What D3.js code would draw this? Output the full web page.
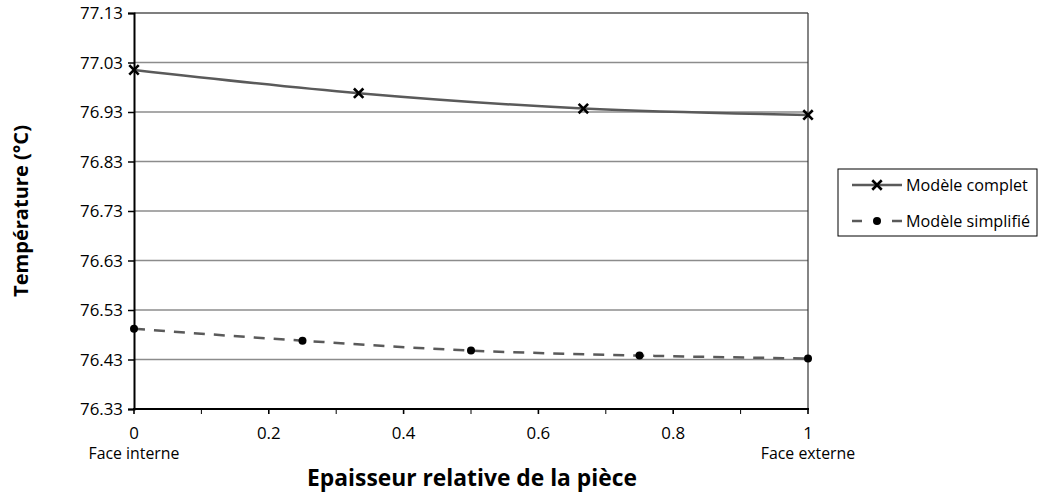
<!DOCTYPE html>
<html><head><meta charset="utf-8">
<script src="https://cdn.jsdelivr.net/npm/d3@7"></script>
<style>
body{margin:0;background:#fff;}
svg{font-family:"Open Sans", "Noto Sans", sans-serif;}
</style></head>
<body><svg id="chart" width="1038" height="493"></svg>
<script>
const seriesNames = ["Modèle complet", "Modèle simplifié"];
const completX = [0, 0.3333, 0.6667, 1];
const completY = [77.015, 76.968, 76.937, 76.924];
const simplX = [0, 0.25, 0.5, 0.75, 1];
const simplY = [76.492, 76.468, 76.448, 76.438, 76.432];
const yTicks = [76.33, 76.43, 76.53, 76.63, 76.73, 76.83, 76.93, 77.03, 77.13];
const xTicks = [0, 0.2, 0.4, 0.6, 0.8, 1];
const xMinor = [0, 0.1, 0.2, 0.3, 0.4, 0.5, 0.6, 0.7, 0.8, 0.9, 1];
const xEndLabels = ["Face interne", "Face externe"];
const yTitle = "Température (°C)";
const xTitle = "Epaisseur relative de la pièce";

const svg = d3.select("#chart");
const L = 134, R = 808, T = 13, B = 409;
const x = d3.scaleLinear().domain([0, 1]).range([L, R]);
const y = d3.scaleLinear().domain([76.33, 77.13]).range([B, T]);

// scale a font size so a sample text reaches a target width
function fitSize(sample, width, weight) {
  const t = svg.append("text").attr("font-size", 100).attr("font-weight", weight || "normal").text(sample);
  const w = t.node().getComputedTextLength();
  t.remove();
  return 100 * width / w;
}
const tickFs = fitSize("77.13", 43);
const endFs = fitSize("Face interne", 91);
const yTitleFs = fitSize(yTitle, 172, "bold");
const xTitleFs = fitSize(xTitle, 330, "bold");
const legFs = fitSize("Modèle complet", 122);

// gridlines
svg.append("g").selectAll("line").data(yTicks.slice(1, -1)).join("line")
  .attr("x1", L).attr("x2", R).attr("y1", d => y(d)).attr("y2", d => y(d))
  .attr("stroke", "#8c8c8c").attr("stroke-width", 1.3);
// top & right border
svg.append("line").attr("x1", L).attr("x2", R).attr("y1", y(77.13)).attr("y2", y(77.13)).attr("stroke", "#000").attr("stroke-width", 1.2);
svg.append("line").attr("x1", R).attr("x2", R).attr("y1", T).attr("y2", B).attr("stroke", "#333").attr("stroke-width", 1.2);

// y axis
const yAxis = d3.axisLeft(y).tickValues(yTicks).tickFormat(d3.format(".2f")).tickSize(6).tickPadding(5);
const gy = svg.append("g").attr("transform", `translate(${L},0)`).call(yAxis);
gy.select(".domain").attr("stroke-width", 2).attr("stroke", "#000");
gy.selectAll(".tick line").attr("stroke-width", 1.5);
gy.selectAll("text").attr("font-size", tickFs).attr("fill", "#000").attr("font-family", "Open Sans").attr("dy", "0.34em");

// x axis
const gx = svg.append("g").attr("transform", `translate(0,${B})`);
gx.append("line").attr("x1", L - 1).attr("x2", R + 1).attr("y1", 0).attr("y2", 0).attr("stroke", "#000").attr("stroke-width", 2.2);
gx.selectAll(".minor").data(xMinor).join("line").attr("class", "minor")
  .attr("x1", d => x(d)).attr("x2", d => x(d)).attr("y1", 0).attr("y2", 5)
  .attr("stroke", "#000").attr("stroke-width", d => (Math.round(d * 10) % 2 === 0 ? 1.6 : 1));
gx.selectAll(".lbl").data(xTicks).join("text").attr("class", "lbl")
  .attr("x", d => x(d)).attr("y", 30).attr("text-anchor", "middle")
  .attr("font-size", tickFs).text(d => d3.format("~g")(d));
gx.selectAll(".end").data(xEndLabels).join("text").attr("class", "end")
  .attr("x", (d, i) => x(i)).attr("y", 50).attr("text-anchor", "middle")
  .attr("font-size", endFs).text(d => d);

// titles
svg.append("text").attr("transform", `translate(28,211) rotate(-90)`).attr("text-anchor", "middle")
  .attr("font-weight", "bold").attr("font-size", yTitleFs).text(yTitle);
svg.append("text").attr("x", 472).attr("y", 486).attr("text-anchor", "middle")
  .attr("font-weight", "bold").attr("font-size", xTitleFs).text(xTitle);

// lines
const line = d3.line().x(d => x(d[0])).y(d => y(d[1])).curve(d3.curveMonotoneX);
const cData = completX.map((d, i) => [d, completY[i]]);
const sData = simplX.map((d, i) => [d, simplY[i]]);
svg.append("path").datum(cData).attr("d", line).attr("fill", "none").attr("stroke", "#5a5a5a").attr("stroke-width", 2.5);
svg.append("path").datum(sData).attr("d", line).attr("fill", "none").attr("stroke", "#5a5a5a").attr("stroke-width", 2.5).attr("stroke-dasharray", "11,9");

const cross = d3.symbol().type(d3.symbolX).size(60);
svg.append("g").selectAll("path").data(cData).join("path")
  .attr("transform", d => `translate(${x(d[0])},${y(d[1])})`).attr("d", cross)
  .attr("fill", "none").attr("stroke", "#000").attr("stroke-width", 2.6);
svg.append("g").selectAll("circle").data(sData).join("circle")
  .attr("cx", d => x(d[0])).attr("cy", d => y(d[1])).attr("r", 4).attr("fill", "#000");

// legend
const lg = svg.append("g");
lg.append("rect").attr("x", 838).attr("y", 169).attr("width", 199).attr("height", 67).attr("fill", "#fff").attr("stroke", "#000").attr("stroke-width", 1);
const ly = [185, 221];
lg.append("line").attr("x1", 852).attr("x2", 902).attr("y1", ly[0]).attr("y2", ly[0]).attr("stroke", "#5a5a5a").attr("stroke-width", 2.5);
lg.append("path").attr("transform", `translate(877,${ly[0]})`).attr("d", cross).attr("fill", "none").attr("stroke", "#000").attr("stroke-width", 2.6);
lg.append("line").attr("x1", 852).attr("x2", 902).attr("y1", ly[1]).attr("y2", ly[1]).attr("stroke", "#5a5a5a").attr("stroke-width", 2.5).attr("stroke-dasharray", "10,30");
lg.append("circle").attr("cx", 877).attr("cy", ly[1]).attr("r", 4).attr("fill", "#000");
lg.selectAll(".lt").data(seriesNames).join("text").attr("class", "lt")
  .attr("x", 906).attr("y", (d, i) => ly[i]).attr("dy", "0.35em").attr("font-size", legFs).text(d => d);
</script></body></html>
